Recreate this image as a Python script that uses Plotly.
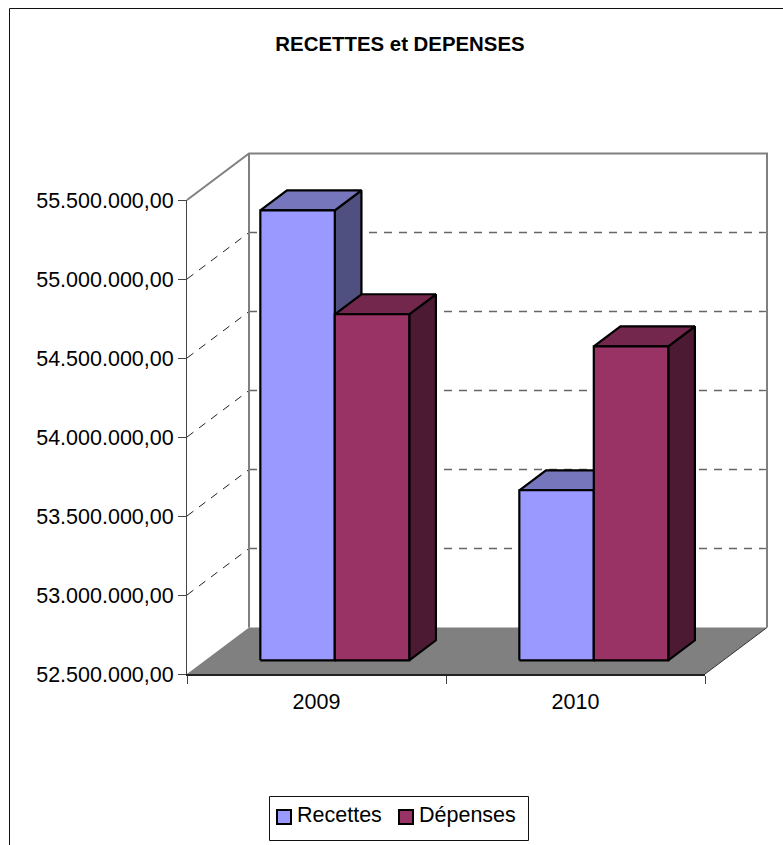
import plotly.graph_objects as go

# Series and labels
years = ["2009", "2010"]
recettes = [55348000, 53576000]
depenses = [54690000, 54487000]
tick_values = [52500000, 53000000, 53500000, 54000000, 54500000, 55000000, 55500000]
tick_labels = ["52.500.000,00", "53.000.000,00", "53.500.000,00", "54.000.000,00",
               "54.500.000,00", "55.000.000,00", "55.500.000,00"]
series_names = ["Recettes", "Dépenses"]

FONT = "Liberation Sans, Arial, sans-serif"
W, H = 783, 845
n_cat = len(years)
Y_MIN, Y_MAX = tick_values[0], tick_values[-1]

# Front plane of the box, in page pixels
LEFT, RIGHT, TOP, BOTTOM = 187, 705, 200, 674
# Drawing area holding the box and its depth, slightly larger so edge strokes stay whole
AREA_L, AREA_R, AREA_T, AREA_B = 183, 771, 150, 678

PX_PER_CAT = (RIGHT - LEFT) / n_cat
PX_PER_VALUE = (BOTTOM - TOP) / (Y_MAX - Y_MIN)

# Oblique projection: one unit of depth moves a point right and up along the axes
DEPTH_X = 62 / PX_PER_CAT
DEPTH_Y = 46.5 / PX_PER_VALUE
BAR_WIDTH = 0.2875
BAR_GAP = 0.2125
BAR_FRONT = 0.295
BAR_BACK = 0.725
BAR_STROKE = 2.2

FACE_COLORS = {
    "Recettes": ("#9999FF", "#7676BC", "#4F4F80"),
    "Dépenses": ("#993366", "#73274D", "#4D1A33"),
}


def project(x, y, depth):
    return x + depth * DEPTH_X, y + depth * DEPTH_Y


def polygon(corners, fill, line_color, line_width):
    pts = [project(*c) for c in corners]
    pts.append(pts[0])
    return go.Scatter(
        x=[p[0] for p in pts], y=[p[1] for p in pts], mode="lines", fill="toself",
        fillcolor=fill, line=dict(color=line_color, width=line_width, simplify=False),
        showlegend=False, hoverinfo="skip", xaxis="x", yaxis="y",
    )


def polyline(corners, color, width, dash="solid"):
    pts = [project(*c) for c in corners]
    return go.Scatter(
        x=[p[0] for p in pts], y=[p[1] for p in pts], mode="lines",
        line=dict(color=color, width=width, dash=dash, simplify=False),
        showlegend=False, hoverinfo="skip", xaxis="x", yaxis="y",
    )


def box(x0, x1, value, colors):
    front, top, side = colors
    base = Y_MIN
    return [
        polygon([(x1, base, BAR_FRONT), (x1, base, BAR_BACK), (x1, value, BAR_BACK), (x1, value, BAR_FRONT)],
                side, "#000000", BAR_STROKE),
        polygon([(x0, value, BAR_FRONT), (x1, value, BAR_FRONT), (x1, value, BAR_BACK), (x0, value, BAR_BACK)],
                top, "#000000", BAR_STROKE),
        polygon([(x0, base, BAR_FRONT), (x1, base, BAR_FRONT), (x1, value, BAR_FRONT), (x0, value, BAR_FRONT)],
                front, "#000000", BAR_STROKE),
    ]


traces = []

# Floor
traces.append(polygon([(0, Y_MIN, 0), (n_cat, Y_MIN, 0), (n_cat, Y_MIN, 1), (0, Y_MIN, 1)],
                      "#808080", "rgba(0,0,0,0)", 0))
traces.append(polyline([(n_cat, Y_MIN, 0), (n_cat, Y_MIN, 1)], "#333333", 1))

# Dashed gridlines across the side wall and the back wall
for v in tick_values[1:-1]:
    traces.append(polyline([(0, v, 0), (0, v, 1)], "#222222", 1, "8px,7px"))
    traces.append(polyline([(0, v, 1), (n_cat, v, 1)], "#666666", 1.3, "8px,7px"))

# Wall outlines
traces.append(polyline([(0, Y_MAX, 0), (0, Y_MAX, 1), (n_cat, Y_MAX, 1), (n_cat, Y_MIN, 1)], "#808080", 2))
traces.append(polyline([(0, Y_MIN, 1), (0, Y_MAX, 1)], "#808080", 2))

# Bars, left to right so later faces overlap earlier ones
for i in range(n_cat):
    start = i + BAR_GAP
    traces += box(start, start + BAR_WIDTH, recettes[i], FACE_COLORS["Recettes"])
    traces += box(start + BAR_WIDTH, start + 2 * BAR_WIDTH, depenses[i], FACE_COLORS["Dépenses"])

# Empty trace that brings the labelled front-plane axes into the figure
traces.append(go.Scatter(x=[None], y=[None], xaxis="x2", yaxis="y2", showlegend=False, hoverinfo="skip"))

fig = go.Figure(traces)


def px_x(px):
    return (px - AREA_L) / (AREA_R - AREA_L)


def px_y(py):
    return (AREA_B - py) / (AREA_B - AREA_T)


def paper_rect(x0, y0, x1, y1, fill, line_color, width):
    return dict(type="rect", xref="paper", yref="paper",
                x0=px_x(x0), x1=px_x(x1), y0=px_y(y0), y1=px_y(y1),
                fillcolor=fill, line=dict(color=line_color, width=width), layer="above")


legend_swatches = [(277, "#9999FF"), (399, "#993366")]
legend_text_x = [297, 419]

shapes = [
    # Chart frame, running off the right and bottom of the page
    paper_rect(9.5, 8.5, W + 10, H + 10, "rgba(0,0,0,0)", "#111111", 1),
    paper_rect(269.5, 796.5, 528.5, 840.5, "#FFFFFF", "#111111", 1),
]
shapes += [paper_rect(x, 810, x + 14, 824, c, "#000000", 2) for x, c in legend_swatches]

annotations = [
    dict(text=name, xref="paper", yref="paper", x=px_x(x), y=px_y(815), xanchor="left", yanchor="middle",
         showarrow=False, align="left", xshift=-2, font=dict(family=FONT, size=21.5, color="#000000"))
    for name, x in zip(series_names, legend_text_x)
]

fig.update_layout(
    width=W, height=H, autosize=False,
    margin=dict(l=AREA_L, r=W - AREA_R, t=AREA_T, b=H - AREA_B, pad=0),
    paper_bgcolor="#FFFFFF", plot_bgcolor="rgba(0,0,0,0)",
    showlegend=False,
    title=dict(text="<b>RECETTES et DEPENSES</b>", x=400 / W, xanchor="center", y=1 - 44 / H, yanchor="middle",
               font=dict(family=FONT, size=20.4, color="#000000")),
    # Hidden axes that carry the projected box, on the same scale as the labelled ones
    xaxis=dict(domain=[0, 1], visible=False, anchor="y",
               range=[(AREA_L - LEFT) / PX_PER_CAT, (AREA_R - LEFT) / PX_PER_CAT]),
    yaxis=dict(domain=[0, 1], visible=False, anchor="x",
               range=[Y_MIN + (BOTTOM - AREA_B) / PX_PER_VALUE, Y_MIN + (BOTTOM - AREA_T) / PX_PER_VALUE]),
    # Labelled axes along the front plane
    xaxis2=dict(domain=[px_x(LEFT), px_x(RIGHT)], anchor="y2",
                range=[0, n_cat], tickvals=[i + 0.5 for i in range(n_cat)], ticktext=years,
                ticks="outside", ticklen=7, tickcolor="rgba(0,0,0,0)", showgrid=False, zeroline=False,
                showline=True, linecolor="#222222", linewidth=2,
                minor=dict(tickvals=list(range(n_cat + 1)), ticks="outside", ticklen=8, tickcolor="#444444",
                           tickwidth=1, showgrid=False),
                tickfont=dict(family=FONT, size=21.5, color="#000000")),
    yaxis2=dict(domain=[px_y(BOTTOM), px_y(TOP)], anchor="x2",
                range=[Y_MIN, Y_MAX], tickvals=tick_values, ticktext=tick_labels,
                ticks="outside", ticklen=8, tickcolor="#444444", showgrid=False, zeroline=False,
                showline=True, linecolor="#444444", linewidth=1,
                tickfont=dict(family=FONT, size=21.5, color="#000000")),
    shapes=shapes,
    annotations=annotations,
)

fig.write_html("out.html", config=dict(displayModeBar=False))
